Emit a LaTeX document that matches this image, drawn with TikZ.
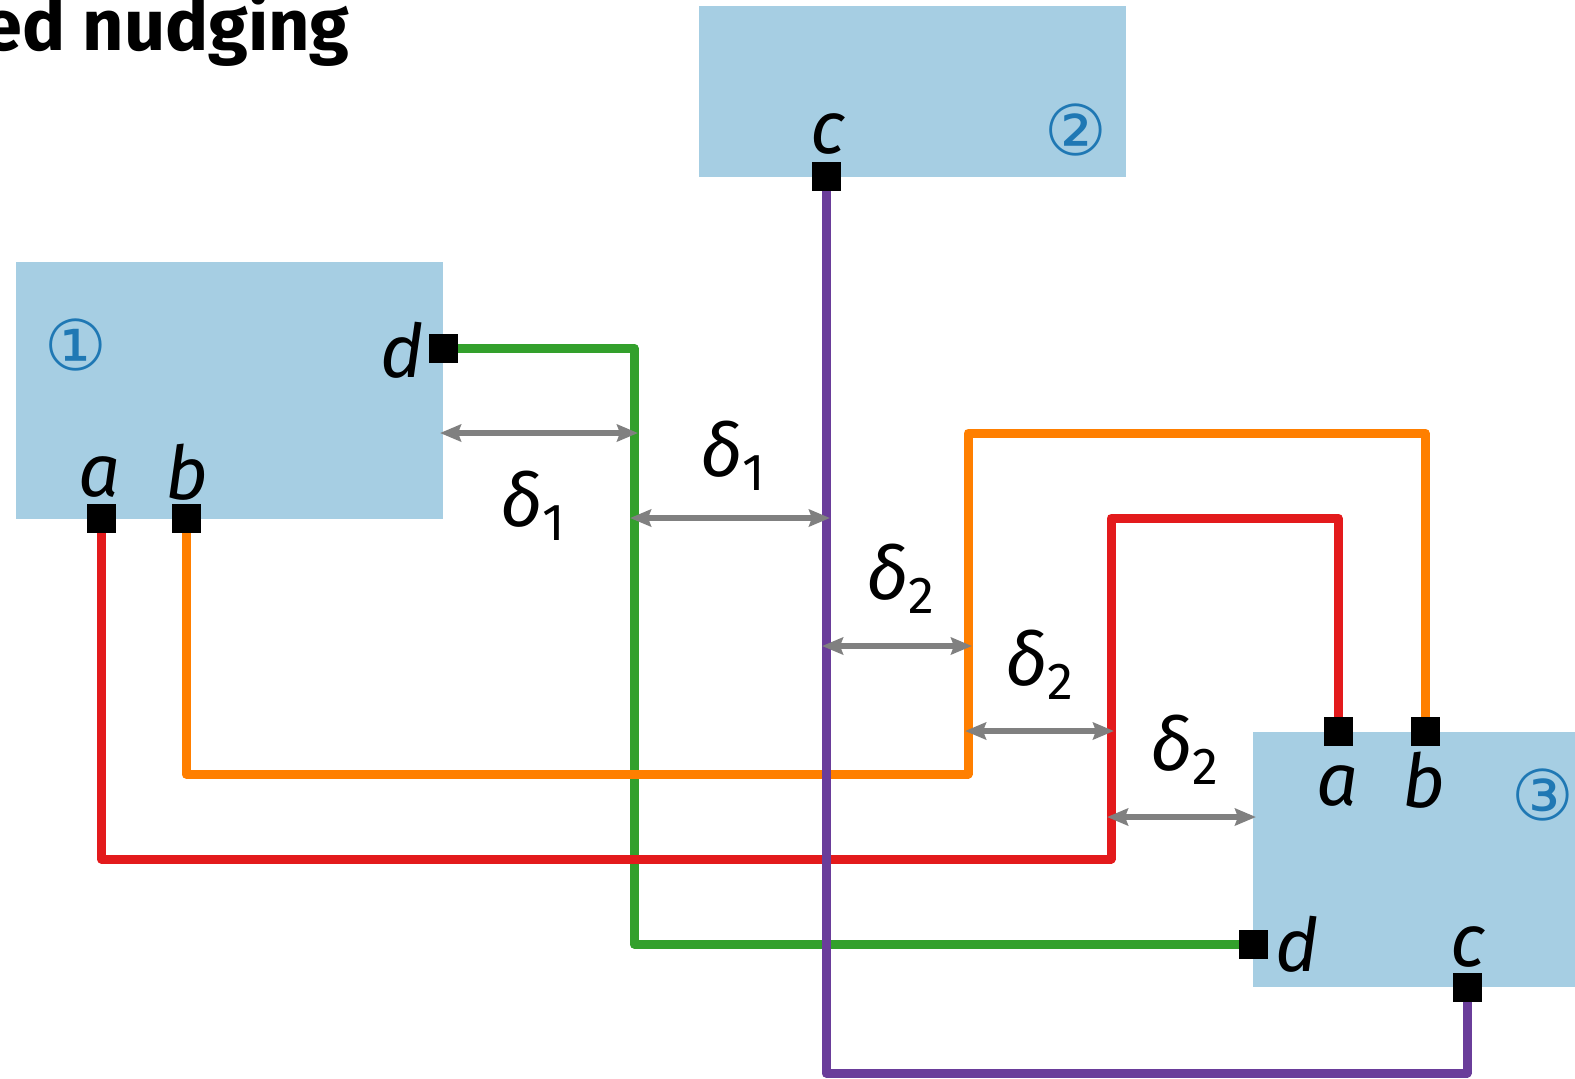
\documentclass[tikz,border=0pt]{standalone}
\usepackage{fontspec}
\setmainfont{Fira Sans}
\newfontfamily\circfont{DejaVu Sans}
\usetikzlibrary{arrows.meta}
\definecolor{boxblue}{HTML}{A6CEE3}
\definecolor{numblue}{HTML}{1F78B4}
\definecolor{wgreen}{HTML}{33A02C}
\definecolor{wred}{HTML}{E31A1C}
\definecolor{worange}{HTML}{FF7F00}
\definecolor{wpurple}{HTML}{6A3D9A}
\definecolor{dimgrey}{HTML}{808080}
\newcommand{\dlab}[1]{δ\raisebox{-7pt}{\upshape\fontsize{26}{26}\selectfont #1}}
\begin{document}
\begin{tikzpicture}[x=0.5pt,y=-0.5pt,
  box/.style={fill=boxblue, draw=none, inner sep=0, outer sep=0, anchor=north west},
  port/.style={fill=black, minimum size=14.5pt, inner sep=0, outer sep=0},
  wire/.style={line width=4.5pt, line join=round},
  dimline/.style={dimgrey, line width=3pt, {Stealth[length=10.5pt,width=8.5pt,inset=1.5pt]}-{Stealth[length=10.5pt,width=8.5pt,inset=1.5pt]}},
  lbl/.style={font=\fontsize{37}{37}\selectfont\itshape, inner sep=0},
  dl/.style={lbl, anchor=base west},
  num/.style={font=\circfont\fontsize{35}{35}\selectfont, text=numblue, inner sep=0},
  ttl/.style={font=\fontsize{36}{36}\selectfont\bfseries, inner sep=0, anchor=base east}]
\useasboundingbox (0,0) rectangle (1575,1078);

% title
\node[ttl] (title) at (350,50) {ed nudging};

% boxes
\node[box, minimum width=213.5pt, minimum height=128.5pt] (b1) at (16,262) {};
\node[box, minimum width=213.5pt, minimum height=85.5pt] (b2) at (699,6) {};
\node[box, minimum width=213.5pt, minimum height=127.5pt] (b3) at (1253,732) {};

% port positions
\coordinate (p1d) at (443,348);
\coordinate (p1a) at (101.5,518);
\coordinate (p1b) at (186,518);
\coordinate (p2c) at (826,176);
\coordinate (p3a) at (1338,731);
\coordinate (p3b) at (1425,731);
\coordinate (p3d) at (1253,944);
\coordinate (p3c) at (1467,987);

% wires
\draw[wire, wgreen] (p1d) -| (634,944) -- (p3d);
\draw[wire, worange] (p1b) |- (968,774) -- (968,433) -| (p3b);
\draw[wire, wred] (p1a) |- (1111,859) -- (1111,518) -| (p3a);
\draw[wire, wpurple] (p2c) |- (1467,1073) -- (p3c);

% dimension arrows
\coordinate (d1l) at (440,433);  \coordinate (d1r) at (638,433);
\coordinate (d2l) at (630,518);  \coordinate (d2r) at (830,518);
\coordinate (d3l) at (822,646);  \coordinate (d3r) at (972,646);
\coordinate (d4l) at (965,731);  \coordinate (d4r) at (1114,731);
\coordinate (d5l) at (1107,817); \coordinate (d5r) at (1256,817);
\draw[dimline] (d1l) -- (d1r);
\draw[dimline] (d2l) -- (d2r);
\draw[dimline] (d3l) -- (d3r);
\draw[dimline] (d4l) -- (d4r);
\draw[dimline] (d5l) -- (d5r);

\node[dl] (l1) at (500,526) {\dlab{1}};
\node[dl] (l2) at (700,476) {\dlab{1}};
\node[dl] (l3) at (866,599) {\dlab{2}};
\node[dl] (l4) at (1005,685) {\dlab{2}};
\node[dl] (l5) at (1150,770) {\dlab{2}};

% ports
\foreach \p in {p1d,p1a,p1b,p2c,p3a,p3b,p3d,p3c} \node[port] at (\p) {};

% port labels
\node[lbl] (t1d) at (402,350) {d};
\node[lbl] (t1a) at (100,477) {a};
\node[lbl] (t1b) at (187,472) {b};
\node[lbl] (t2c) at (828,134) {c};
\node[lbl] (t3a) at (1338,786) {a};
\node[lbl] (t3b) at (1424,780) {b};
\node[lbl] (t3d) at (1297,944) {d};
\node[lbl] (t3c) at (1468,947) {c};

% box numbers
\node[num] (n1) at (76,345) {①};
\node[num] (n2) at (1076,130) {②};
\node[num] (n3) at (1543,795) {③};
\end{tikzpicture}
\end{document}
